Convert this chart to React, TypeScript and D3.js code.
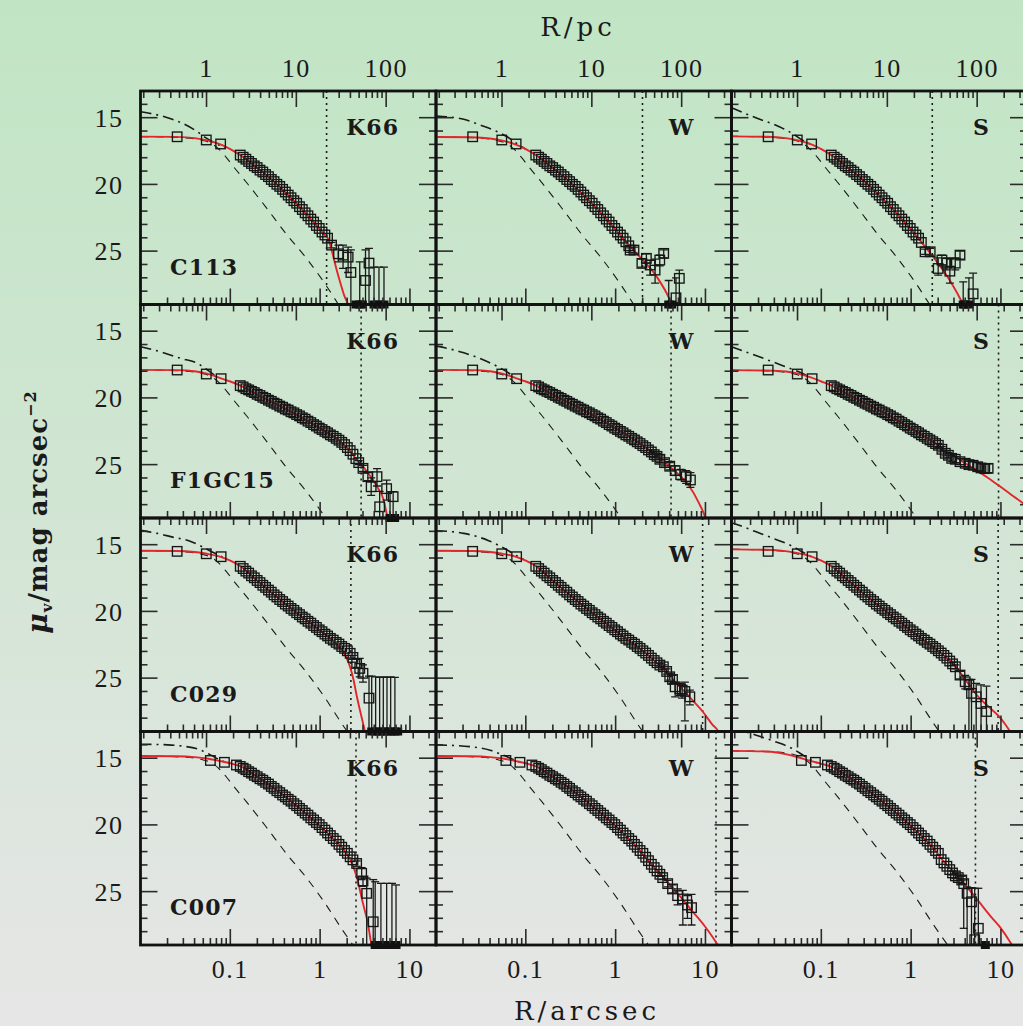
import React from 'react';
import * as d3 from 'd3';

const W = 1023, H = 1026;
const LEFT = 140.5, TOP = 91, PW = 295.5, PH = 213.5;
const R_MIN = 0.01, R_MAX = 19.5, MU_MIN = 13, MU_MAX = 29;
const PC_PER_ARCSEC = 18.4;

const clusterNames = ['C113', 'F1GC15', 'C029', 'C007'];
const modelNames = ['K66', 'W', 'S'];
const muTickLabels = [15, 20, 25];
const arcsecTickLabels = ['0.1', '1', '10'];
const pcTickLabels = ['1', '10', '100'];

// shared radial grid of the dense part of the profiles (arcsec)
const gridR = [0.129, 0.139, 0.149, 0.160, 0.172, 0.185, 0.199, 0.214, 0.230, 0.247, 0.266, 0.286, 0.307, 0.330, 0.355, 0.382, 0.410, 0.441, 0.474, 0.510, 0.548, 0.589, 0.633, 0.681, 0.732, 0.787, 0.846, 0.909, 0.977, 1.05, 1.13, 1.21, 1.30, 1.40, 1.51, 1.62, 1.74, 1.87, 2.01, 2.16, 2.32, 2.50, 2.69, 2.89, 3.11, 3.34];

// PSF profile (offset in mag from the model centre)
const psfR = [0.01, 0.02, 0.03, 0.04, 0.05, 0.06, 0.075, 0.09, 0.11, 0.15, 0.25, 0.42, 0.7, 1.1, 1.8, 3.0];
const psfDelta = [0, 0.03, 0.08, 0.16, 0.29, 0.47, 0.95, 1.55, 2.3, 3.4, 5.3, 7.3, 9.1, 10.9, 13.1, 15.2];

// ---------- C113 ----------
const c113InnerR = [0.0256, 0.054, 0.078];
const c113InnerMu = [16.43, 16.67, 16.97];
const c113GridMu = [17.80, 17.96, 18.11, 18.28, 18.43, 18.61, 18.74, 18.93, 19.07, 19.26, 19.42, 19.63, 19.79, 19.99, 20.15, 20.37, 20.57, 20.80, 21.00, 21.22, 21.41, 21.67, 21.88, 22.13, 22.35, 22.60, 22.82, 23.08, 23.30, 23.57, 23.79, 24.03];
const c113K66Tail = [[1.34, 24.55, 24.35, 24.75], [1.60, 25.2, 24.55, 25.8], [1.80, 25.3, 24.55, 26.3], [2.05, 25.45, 24.7, 26.6], [2.2, 26.6, 24.9, 30], [2.51, null, null, null], [2.76, null, 25.8, null], [2.95, null, null, null], [3.2, 27.2, 24.9, 30], [3.5, 25.9, 24.8, 30], [3.98, null, 26.2, null], [4.52, null, 26.2, null], [5.14, null, 26.2, null]];
const c113WTail = [[1.30, 24.3, null, null], [1.40, 24.6, null, null], [1.45, 24.92, 24.75, 25.1], [1.60, 24.92, 24.7, 25.15], [1.96, 25.92, 25.6, 26.2], [2.2, 25.54, 25.2, 25.9], [2.42, 26.04, 25.7, 26.8], [2.75, 26.42, 25.6, 27.4], [3.1, 25.67, 25.3, 26.1], [3.43, 25.17, 24.9, 25.5], [3.9, null, 27.2, null], [4.2, null, null, null], [4.7, 28.5, 27.0, 30], [5.12, 27.04, 26.42, 30]];
const c113STail = [[1.30, 24.35, null, null], [1.43, 25.05, 24.85, 25.25], [1.63, 25.05, 24.8, 25.3], [2.0, 26.3, 25.5, 26.8], [2.2, 25.67, 25.3, 26.1], [2.5, 25.9, 25.5, 26.4], [2.7, 26.5, 25.6, 27.4], [3.1, 25.9, 25.5, 26.4], [3.5, 25.3, 25.0, 25.6], [3.8, null, 27.3, null], [3.97, null, null, null], [4.4, null, 27.0, null], [4.9, 28.2, 26.65, 30]];
const c113K66Red = [[0.01, 16.42], [0.025, 16.44], [0.04, 16.53], [0.055, 16.7], [0.075, 16.97], [0.1, 17.35], [0.13, 17.82], [0.2, 18.77], [0.3, 19.74], [0.45, 20.87], [0.65, 21.98], [0.9, 23.04], [1.1, 23.72], [1.23, 24.1], [1.34, 24.9], [1.5, 26.2], [1.7, 27.5], [1.85, 28.3], [2.05, 29.0], [2.3, 30]];
const c113WRed = [[0.01, 16.45], [0.025, 16.47], [0.04, 16.56], [0.055, 16.72], [0.075, 16.98], [0.1, 17.36], [0.13, 17.82], [0.2, 18.77], [0.3, 19.74], [0.45, 20.87], [0.65, 21.98], [0.9, 23.04], [1.1, 23.72], [1.33, 24.38], [1.87, 25.45], [2.87, 26.92], [4.03, 28.67], [4.4, 29.3]];
const c113SRed = [[0.01, 16.4], [0.025, 16.43], [0.04, 16.53], [0.055, 16.7], [0.075, 16.97], [0.1, 17.36], [0.13, 17.82], [0.2, 18.77], [0.3, 19.74], [0.45, 20.87], [0.65, 21.98], [0.9, 23.04], [1.1, 23.72], [1.43, 24.67], [2.0, 25.92], [2.83, 27.42], [3.8, 29.0], [4.2, 29.6]];
const c113K66DashDot = [[0.01, 14.55], [0.02, 15.0], [0.03, 15.45], [0.043, 16.05], [0.053, 16.5], [0.07, 16.95], [0.09, 17.25]];
const c113WDashDot = [[0.01, 14.87], [0.0204, 15.12], [0.031, 15.55], [0.048, 16.05], [0.062, 16.43], [0.08, 16.95], [0.1, 17.36]];
const c113SDashDot = [[0.01, 14.25], [0.0193, 15.05], [0.0308, 15.55], [0.0472, 16.17], [0.061, 16.67], [0.075, 16.97]];
const c113Trunc = [1.18, 1.99, 1.72];

// ---------- F1GC15 ----------
const f1InnerR = [0.0256, 0.054, 0.079];
const f1InnerMu = [17.91, 18.21, 18.56];
const f1GridMu = [19.08, 19.18, 19.31, 19.40, 19.51, 19.60, 19.73, 19.82, 19.95, 20.04, 20.17, 20.26, 20.39, 20.48, 20.61, 20.70, 20.83, 20.91, 21.04, 21.12, 21.25, 21.35, 21.49, 21.59, 21.74, 21.85, 22.00, 22.11, 22.26, 22.37, 22.51, 22.62, 22.77, 22.88, 23.03];
const f1K66Tail = [[1.62, 23.17, null, null], [1.74, 23.33, null, null], [1.87, 23.5, null, null], [2.01, 23.72, null, null], [2.16, 23.95, null, null], [2.32, 24.22, null, null], [2.50, 24.55, null, null], [2.69, 24.85, 24.7, 25.0], [3.0, 25.28, 25.05, 25.5], [3.4, 25.9, 25.6, 26.2], [3.7, 26.66, 26.0, 27.3], [4.3, 25.9, 25.3, 26.6], [4.6, 28.16, 27.0, 29.5], [5.5, 26.8, 26.16, 27.66], [6.0, null, 27.03, null], [6.5, 27.4, 27.03, 30], [6.75, null, null, null]];
const f1WTail = [[1.62, 23.15, null, null], [1.74, 23.29, null, null], [1.87, 23.42, null, null], [2.01, 23.58, null, null], [2.16, 23.72, null, null], [2.32, 23.9, null, null], [2.50, 24.05, 23.9, 24.2], [2.69, 24.25, 24.05, 24.45], [2.89, 24.38, 24.15, 24.6], [3.11, 24.6, 24.35, 24.85], [3.5, 24.85, 24.6, 25.1], [4.0, 25.12, 24.85, 25.4], [4.6, 25.45, 25.1, 25.8], [5.3, 25.75, 25.35, 26.15], [6.1, 25.9, 25.45, 26.4], [6.8, 26.15, 25.6, 26.7]];
const f1STail = [[1.62, 23.15, null, null], [1.74, 23.28, null, null], [1.87, 23.42, null, null], [2.01, 23.55, 23.4, 23.7], [2.2, 23.85, 23.65, 24.05], [2.4, 24.15, 23.95, 24.35], [2.6, 24.3, 24.1, 24.5], [2.83, 24.53, 24.3, 24.75], [3.1, 24.6, 24.4, 24.85], [3.5, 24.78, 24.55, 25.0], [4.0, 24.9, 24.65, 25.15], [4.4, 25.0, 24.75, 25.25], [4.9, 25.05, 24.8, 25.35], [5.5, 25.16, 24.85, 25.45], [6.0, 25.25, 24.95, 25.55], [6.6, 25.3, 24.95, 25.6], [7.2, 25.28, 24.95, 25.6]];
const f1K66Red = [[0.01, 17.9], [0.025, 17.92], [0.04, 18.0], [0.055, 18.18], [0.075, 18.48], [0.1, 18.77], [0.13, 19.08], [0.2, 19.75], [0.3, 20.35], [0.5, 21.12], [0.8, 21.9], [1.2, 22.6], [1.6, 23.15], [2.0, 23.75], [2.55, 24.62], [3.3, 25.5], [4.3, 26.66], [5.1, 27.66], [5.5, 28.65], [5.7, 29.0], [5.9, 29.5]];
const f1WRed = [[0.01, 17.9], [0.025, 17.92], [0.04, 18.0], [0.055, 18.18], [0.075, 18.48], [0.1, 18.77], [0.13, 19.08], [0.2, 19.75], [0.3, 20.35], [0.5, 21.12], [0.8, 21.9], [1.2, 22.6], [1.6, 23.12], [2.0, 23.55], [3.0, 24.45], [4.5, 25.45], [6.5, 26.55], [8.5, 27.9], [10, 29.0], [10.5, 29.5]];
const f1SRed = [[0.01, 17.92], [0.025, 17.95], [0.04, 18.02], [0.055, 18.18], [0.075, 18.45], [0.1, 18.77], [0.13, 19.08], [0.2, 19.75], [0.3, 20.35], [0.5, 21.12], [0.8, 21.9], [1.2, 22.6], [1.6, 23.12], [2.0, 23.55], [3.0, 24.35], [4.0, 24.9], [5.0, 25.3], [7.2, 26.0], [9.3, 26.53], [13, 27.25], [19.5, 28.1]];
const f1K66DashDot = [[0.01, 16.16], [0.018, 16.61], [0.0278, 17.03], [0.0427, 17.4], [0.057, 17.96], [0.07, 18.4]];
const f1WDashDot = [[0.01, 16.1], [0.02, 16.6], [0.035, 17.2], [0.05, 17.7], [0.065, 18.15], [0.075, 18.45]];
const f1SDashDot = [[0.01, 16.16], [0.024, 17.1], [0.0398, 17.66], [0.056, 18.04], [0.075, 18.45]];
const f1Trunc = [2.86, 4.14, 9.4];

// ---------- C029 ----------
const c029InnerR = [0.0256, 0.054, 0.079];
const c029InnerMu = [15.5, 15.68, 15.9];
const c029GridMu = [16.62, 16.79, 16.98, 17.13, 17.33, 17.48, 17.68, 17.84, 18.04, 18.20, 18.40, 18.56, 18.76, 18.92, 19.11, 19.26, 19.45, 19.60, 19.78, 19.92, 20.10, 20.24, 20.42, 20.56, 20.74, 20.88, 21.06, 21.20, 21.38, 21.52, 21.70, 21.84, 22.02, 22.15, 22.32, 22.45, 22.63, 22.77, 22.95];
const c029K66Tail = [[2.16, 23.14, null, null], [2.32, 23.45, 23.3, 23.6], [2.55, 23.9, 23.6, 24.2], [2.76, 24.27, 23.52, 24.9], [3.0, 24.64, 24.0, 25.3], [3.5, 26.5, 24.85, 30], [3.75, null, 24.85, null], [4.15, null, 24.9, null], [4.6, null, 24.95, null], [5.05, null, 24.9, null], [5.55, null, 24.95, null], [6.1, null, 24.9, null], [6.8, null, 24.95, null], [7.3, null, null, null]];
const c029WTail = [[2.16, 23.12, null, null], [2.32, 23.3, null, null], [2.50, 23.5, null, null], [2.69, 23.68, null, null], [2.89, 23.85, null, null], [3.11, 24.02, 23.9, 24.15], [3.4, 24.15, 24.0, 24.3], [3.7, 24.5, 24.3, 24.7], [4.0, 24.9, 24.65, 25.15], [4.3, 25.1, 24.8, 25.4], [4.6, 25.65, 25.35, 26.4], [5.2, 25.8, 25.4, 26.3], [5.5, 25.9, 25.5, 26.5], [5.9, 26.0, 25.3, 28.2], [6.7, 26.4, 25.9, 27.0]];
const c029STail = [[2.16, 23.12, null, null], [2.32, 23.3, null, null], [2.50, 23.5, null, null], [2.69, 23.72, null, null], [2.89, 23.93, 23.8, 24.05], [3.11, 24.15, 24.0, 24.3], [3.5, 24.77, 24.5, 25.05], [4.0, 25.27, 24.8, 25.8], [4.4, 25.5, 25.1, 29.5], [4.7, 26.14, 25.1, 29.5], [5.3, 26.4, 25.4, 29.5], [6.0, 26.9, 25.5, 29.5], [6.9, 27.5, 25.6, 29.5]];
const c029K66Red = [[0.01, 15.45], [0.025, 15.47], [0.04, 15.55], [0.055, 15.68], [0.075, 15.88], [0.1, 16.2], [0.13, 16.62], [0.2, 17.7], [0.3, 18.7], [0.5, 19.9], [0.8, 20.95], [1.3, 22.05], [1.55, 22.5], [1.82, 23.05], [2.0, 23.6], [2.15, 24.15], [2.35, 25.1], [2.55, 26.3], [2.75, 27.3], [2.9, 27.95], [3.16, 29.0], [3.3, 29.5]];
const c029WRed = [[0.01, 15.45], [0.025, 15.47], [0.04, 15.55], [0.055, 15.68], [0.075, 15.88], [0.1, 16.2], [0.13, 16.62], [0.2, 17.7], [0.3, 18.7], [0.5, 19.9], [0.8, 20.95], [1.3, 22.05], [2.0, 22.95], [2.6, 23.6], [3.4, 24.3], [4.5, 25.2], [6.7, 26.45], [9.3, 27.5], [12, 28.5], [13.9, 29.0], [14.5, 29.3]];
const c029SRed = [[0.01, 15.35], [0.025, 15.38], [0.04, 15.48], [0.055, 15.63], [0.075, 15.86], [0.1, 16.2], [0.13, 16.62], [0.2, 17.7], [0.3, 18.7], [0.5, 19.9], [0.8, 20.95], [1.3, 22.05], [2.0, 22.95], [3.1, 24.1], [4.2, 25.3], [5.6, 26.4], [7.3, 27.15], [9.3, 27.8], [11, 28.4], [12.6, 29.0], [13.5, 29.4]];
const c029K66DashDot = [[0.01, 13.93], [0.0153, 14.15], [0.0234, 14.45], [0.0345, 14.7], [0.0444, 15.02], [0.057, 15.4], [0.075, 15.8], [0.092, 16.1]];
const c029WDashDot = [[0.01, 13.95], [0.0204, 14.15], [0.0386, 14.7], [0.062, 15.4], [0.08, 15.85], [0.095, 16.12]];
const c029SDashDot = [[0.01, 13.35], [0.0119, 13.52], [0.0185, 14.02], [0.0308, 14.59], [0.047, 15.1], [0.061, 15.53], [0.08, 15.95], [0.095, 16.15]];
const c029Trunc = [2.2, 9.3, 9.3];

// ---------- C007 ----------
const c007InnerR = [0.06, 0.086, 0.117];
const c007InnerMu = [15.17, 15.31, 15.51];
const c007GridMu = [15.62, 15.75, 15.86, 16.01, 16.12, 16.28, 16.39, 16.54, 16.65, 16.81, 16.94, 17.12, 17.26, 17.44, 17.58, 17.76, 17.90, 18.08, 18.22, 18.41, 18.56, 18.76, 18.92, 19.11, 19.27, 19.47, 19.63, 19.82, 19.98, 20.20, 20.39, 20.61, 20.80, 21.02, 21.21, 21.46, 21.67, 21.92, 22.13];
const c007K66Tail = [[2.16, 22.39, null, null], [2.32, 22.62, null, null], [2.55, 22.89, 22.7, 23.1], [2.9, 23.63, 23.2, 24.1], [3.0, 24.2, 23.88, 24.6], [3.3, 25.13, 23.99, 30], [3.9, 27.26, 24.1, 30], [4.1, null, 24.26, null], [4.75, null, 24.38, null], [5.5, null, 24.38, null], [6.3, null, 24.38, null], [7.0, null, 24.5, null]];
const c007WTail = [[2.16, 22.42, null, null], [2.32, 22.68, null, null], [2.50, 22.95, null, null], [2.69, 23.2, null, null], [2.89, 23.45, null, null], [3.11, 23.7, 23.55, 23.85], [3.34, 23.95, 23.8, 24.1], [3.8, 24.4, 24.15, 24.65], [4.3, 24.8, 24.5, 25.1], [4.9, 25.3, 24.8, 26.0], [5.6, 25.55, 24.9, 27.5], [6.3, 26.0, 25.3, 27.0], [7.0, 26.2, 25.2, 27.5]];
const c007STail = [[2.16, 22.6, null, null], [2.32, 22.85, null, null], [2.50, 23.1, null, null], [2.69, 23.35, null, null], [2.89, 23.6, 23.45, 23.75], [3.11, 23.82, 23.65, 24.0], [3.35, 23.95, 23.75, 24.15], [3.66, 24.13, 23.85, 24.4], [3.85, 24.4, 24.13, 27.75], [4.2, 25.13, 24.65, 29.5], [4.7, 25.76, 24.7, 29.5], [5.1, 28.6, 24.75, 29.5], [5.6, 27.75, 24.75, 29.5], [6.7, null, null, null]];
const c007K66Red = [[0.01, 14.84], [0.025, 14.86], [0.04, 14.92], [0.055, 15.02], [0.075, 15.2], [0.1, 15.38], [0.13, 15.62], [0.2, 16.4], [0.3, 17.2], [0.5, 18.35], [0.8, 19.5], [1.3, 20.82], [1.8, 21.8], [2.15, 22.55], [2.55, 23.88], [3.0, 25.88], [3.4, 27.38], [3.7, 28.88], [3.8, 29.3]];
const c007WRed = [[0.01, 14.84], [0.025, 14.86], [0.04, 14.92], [0.055, 15.02], [0.075, 15.2], [0.1, 15.38], [0.13, 15.62], [0.2, 16.4], [0.3, 17.2], [0.5, 18.35], [0.8, 19.5], [1.3, 20.82], [1.8, 21.8], [2.15, 22.45], [3.35, 23.9], [5.0, 25.2], [7.0, 26.4], [9.6, 27.5], [12, 28.4], [13.7, 29.0], [14.5, 29.3]];
const c007SRed = [[0.01, 14.45], [0.025, 14.5], [0.04, 14.7], [0.055, 14.93], [0.075, 15.2], [0.1, 15.42], [0.13, 15.65], [0.2, 16.4], [0.3, 17.2], [0.5, 18.35], [0.8, 19.5], [1.3, 20.82], [1.8, 21.8], [2.15, 22.5], [3.35, 23.9], [5.6, 25.7], [7.9, 26.95], [10, 27.75], [12.7, 28.8], [13.5, 29.1]];
const c007K66DashDot = [[0.01, 13.95], [0.02, 14.0], [0.03, 14.1], [0.045, 14.35], [0.06, 14.75], [0.075, 15.1], [0.09, 15.32]];
const c007WDashDot = [[0.01, 14.0], [0.025, 14.15], [0.04, 14.4], [0.055, 14.75], [0.075, 15.15], [0.09, 15.34]];
const c007SDashDot = [[0.01, 12.7], [0.0185, 13.26], [0.0308, 13.76], [0.047, 14.26], [0.058, 14.63], [0.075, 15.1], [0.09, 15.35]];
const c007Trunc = [2.51, 13.1, 5.2];

const rows = [
  { innerR: c113InnerR, innerMu: c113InnerMu, gridMu: c113GridMu, tails: [c113K66Tail, c113WTail, c113STail], reds: [c113K66Red, c113WRed, c113SRed], dashdots: [c113K66DashDot, c113WDashDot, c113SDashDot], truncs: c113Trunc },
  { innerR: f1InnerR, innerMu: f1InnerMu, gridMu: f1GridMu, tails: [f1K66Tail, f1WTail, f1STail], reds: [f1K66Red, f1WRed, f1SRed], dashdots: [f1K66DashDot, f1WDashDot, f1SDashDot], truncs: f1Trunc },
  { innerR: c029InnerR, innerMu: c029InnerMu, gridMu: c029GridMu, tails: [c029K66Tail, c029WTail, c029STail], reds: [c029K66Red, c029WRed, c029SRed], dashdots: [c029K66DashDot, c029WDashDot, c029SDashDot], truncs: c029Trunc },
  { innerR: c007InnerR, innerMu: c007InnerMu, gridMu: c007GridMu, tails: [c007K66Tail, c007WTail, c007STail], reds: [c007K66Red, c007WRed, c007SRed], dashdots: [c007K66DashDot, c007WDashDot, c007SDashDot], truncs: c007Trunc },
];

const xScaleFor = (c: number) => d3.scaleLog().domain([R_MIN, R_MAX]).range([LEFT + c * PW, LEFT + (c + 1) * PW]);
const pcScaleFor = (c: number) => d3.scaleLog().domain([R_MIN * PC_PER_ARCSEC, R_MAX * PC_PER_ARCSEC]).range([LEFT + c * PW, LEFT + (c + 1) * PW]);
const yScaleFor = (r: number) => d3.scaleLinear().domain([MU_MIN, MU_MAX]).range([TOP + r * PH, TOP + (r + 1) * PH]);
const isDecade = (v: number) => Math.abs(Math.log10(v) - Math.round(Math.log10(v))) < 1e-6;

const LABEL_FONT = "'DejaVu Serif', serif";
const NUM_FONT = "'Liberation Serif', 'Times New Roman', serif";
const TICK_COLOR = '#2b2b2b';
const MAJ = 16, MIN = 7;
const SQ = 9.5;

function Panel({ r, c }: { r: number; c: number }) {
  const row = rows[r];
  const x = xScaleFor(c), pcx = pcScaleFor(c), y = yScaleFor(r);
  const x0 = LEFT + c * PW, y0 = TOP + r * PH, x1 = x0 + PW, y1 = y0 + PH;
  const line = d3.line<number[]>().x(d => x(d[0])).y(d => y(d[1])).curve(d3.curveMonotoneX);
  const red = row.reds[c];
  const tail = row.tails[c];
  const psf = psfR.map((R, i) => [R, red[0][1] + psfDelta[i]]);
  const pts: number[][] = [
    ...row.innerR.map((R, i) => [R, row.innerMu[i]]),
    ...row.gridMu.map((m, i) => [gridR[i], m]),
    ...tail.filter(t => t[1] != null).map(t => [t[0] as number, t[1] as number]),
  ];
  const bars = tail.filter(t => t[2] != null);
  const floors = tail.filter(t => t[1] == null);
  const clipId = `clip-${r}-${c}`;
  const arcTicks = x.ticks().filter(v => v > R_MIN * 1.001 && v < R_MAX);
  const pcTicks = pcx.ticks().filter(v => v > R_MIN * PC_PER_ARCSEC * 1.001 && v < R_MAX * PC_PER_ARCSEC);
  const muTicks = d3.range(MU_MIN + 1, MU_MAX);
  const tr = row.truncs[c];
  return (
    <g>
      <defs>
        <clipPath id={clipId}><rect x={x0} y={y0} width={PW} height={PH} /></clipPath>
      </defs>
      <g clipPath={`url(#${clipId})`}>
        <path d={line(psf) || ''} fill="none" stroke="#1a1a1a" strokeWidth={1.1} strokeDasharray="8,7" />
        <path d={line(row.dashdots[c]) || ''} fill="none" stroke="#1a1a1a" strokeWidth={1.6} strokeDasharray="11,5,2,5" />
        <line x1={x(tr)} x2={x(tr)} y1={y0} y2={y1} stroke="#1a1a1a" strokeWidth={1.6} strokeDasharray="2,4" />
        <path d={line(red) || ''} fill="none" stroke="#e3262b" strokeWidth={1.9} />
        {bars.map((t, i) => {
          const bx = x(t[0] as number);
          const top = y(t[2] as number);
          const botVal = t[3] == null ? MU_MAX + 1 : (t[3] as number);
          const bot = y(Math.min(botVal, MU_MAX + 1));
          return (
            <g key={i} stroke="#1a1a1a" strokeWidth={1.3}>
              <line x1={bx} x2={bx} y1={top} y2={bot} />
              <line x1={bx - 4} x2={bx + 4} y1={top} y2={top} />
              {botVal < MU_MAX && <line x1={bx - 4} x2={bx + 4} y1={bot} y2={bot} />}
            </g>
          );
        })}
        {pts.map((p, i) => (
          <rect key={i} x={x(p[0]) - SQ / 2} y={y(p[1]) - SQ / 2} width={SQ} height={SQ} fill="none" stroke="#161616" strokeWidth={1.35} />
        ))}
      </g>
      {floors.map((t, i) => (
        <rect key={i} x={x(t[0] as number) - 4.5} y={y1 - 4} width={9} height={8} fill="#111" />
      ))}
      <g stroke={TICK_COLOR} strokeWidth={1.6}>
        {arcTicks.map((v, i) => {
          const L = isDecade(v) ? MAJ : MIN;
          return <line key={'b' + i} x1={x(v)} x2={x(v)} y1={y1} y2={y1 - L} />;
        })}
        {pcTicks.map((v, i) => {
          const L = isDecade(v) ? MAJ : MIN;
          return <line key={'t' + i} x1={pcx(v)} x2={pcx(v)} y1={y0} y2={y0 + L} />;
        })}
        {muTicks.map((m, i) => {
          const L = m % 5 === 0 ? MAJ + 1 : MIN;
          return (
            <g key={'m' + i}>
              <line x1={x0} x2={x0 + L} y1={y(m)} y2={y(m)} />
              <line x1={x1} x2={x1 - L} y1={y(m)} y2={y(m)} />
            </g>
          );
        })}
      </g>
      <rect x={x0} y={y0} width={PW} height={PH} fill="none" stroke="#111" strokeWidth={2.8} />
      <text x={x1 - 37} y={y0 + 44} textAnchor="end" fontFamily={LABEL_FONT} fontWeight="bold" fontSize={22} letterSpacing={1} fill="#1a1a1a">{modelNames[c]}</text>
      {c === 0 && (
        <text x={x0 + 29.5} y={y1 - 30} fontFamily={LABEL_FONT} fontWeight="bold" fontSize={22} letterSpacing={1.2} fill="#1a1a1a">{clusterNames[r]}</text>
      )}
    </g>
  );
}

export default function App() {
  React.useEffect(() => {
    document.body.style.margin = '0';
    document.body.style.overflow = 'hidden';
  }, []);
  const cells: { r: number; c: number }[] = [];
  for (let r = 0; r < 4; r++) for (let c = 0; c < 3; c++) cells.push({ r, c });
  return (
    <svg width={W} height={H} style={{ position: 'absolute', left: 0, top: 0, display: 'block' }}>
      <defs>
        <linearGradient id="bg" x1="0" y1="0" x2="0" y2="1">
          <stop offset="0" stopColor="#c1e5c4" />
          <stop offset="0.5" stopColor="#d2e5d4" />
          <stop offset="1" stopColor="#e6e6e6" />
        </linearGradient>
      </defs>
      <rect x={0} y={0} width={W} height={H} fill="url(#bg)" />
      {cells.map(({ r, c }) => <Panel key={`${r}-${c}`} r={r} c={c} />)}
      {[0, 1, 2].map(c => {
        const pcx = pcScaleFor(c);
        return pcTickLabels.map(l => (
          <text key={`pc-${c}-${l}`} x={pcx(+l)} y={77} textAnchor="middle" fontFamily={NUM_FONT} fontSize={26} letterSpacing={1.5} fill="#1a1a1a">{l}</text>
        ));
      })}
      {[0, 1, 2].map(c => {
        const x = xScaleFor(c);
        return arcsecTickLabels.map(l => (
          <text key={`as-${c}-${l}`} x={x(+l)} y={978} textAnchor="middle" fontFamily={NUM_FONT} fontSize={26} letterSpacing={1.5} fill="#1a1a1a">{l}</text>
        ));
      })}
      {[0, 1, 2, 3].map(r => {
        const y = yScaleFor(r);
        return muTickLabels.map(m => (
          <text key={`mu-${r}-${m}`} x={123.5} y={y(m)} dy="0.35em" textAnchor="end" fontFamily={NUM_FONT} fontSize={26} letterSpacing={1.5} fill="#1a1a1a">{m}</text>
        ));
      })}
      <text x={578} y={36} textAnchor="middle" fontFamily={LABEL_FONT} fontSize={26} letterSpacing={4} fill="#1a1a1a">R/pc</text>
      <text x={587} y={1020} textAnchor="middle" fontFamily={LABEL_FONT} fontSize={26} letterSpacing={4} fill="#1a1a1a">R/arcsec</text>
      <text transform="translate(47,512) rotate(-90)" textAnchor="middle" fontFamily={LABEL_FONT} fontWeight="bold" fontSize={26} letterSpacing={1} fill="#1a1a1a">
        <tspan fontStyle="italic" fontSize={28}>μ</tspan>
        <tspan fontSize={15} dy={5}>v</tspan>
        <tspan dy={-5}>/mag arcsec</tspan>
        <tspan fontSize={16} dy={-11}>−2</tspan>
      </text>
    </svg>
  );
}
